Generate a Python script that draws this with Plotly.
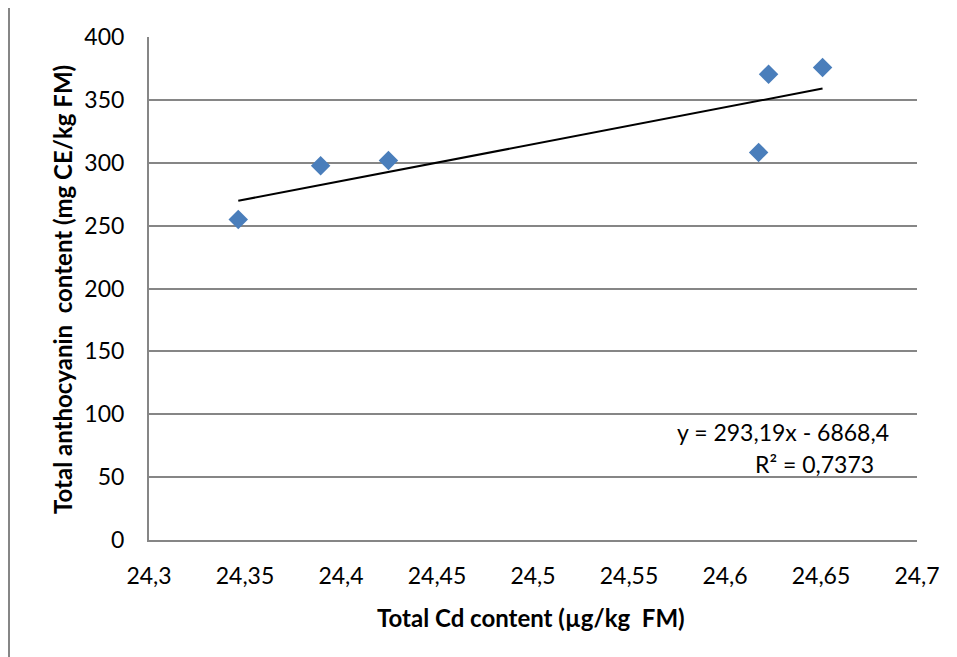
import plotly.graph_objects as go

# Data
cd_content = [24.3465, 24.3894, 24.4247, 24.6175, 24.6227, 24.6508]
anthocyanin = [254.8, 297.6, 301.8, 308.2, 370.4, 375.7]

# Trendline as stated on the chart
slope = 293.19
intercept = -6868.4
eq_text = "y = 293,19x - 6868,4"
r2_text = "R² = 0,7373"

x_ticks = [24.3, 24.35, 24.4, 24.45, 24.5, 24.55, 24.6, 24.65, 24.7]
x_ticktext = ["24,3", "24,35", "24,4", "24,45", "24,5", "24,55", "24,6", "24,65", "24,7"]
y_ticks = [0, 50, 100, 150, 200, 250, 300, 350, 400]

x_title = "Total Cd content (µg/kg\u00a0 FM)"
y_title = "Total anthocyanin\u00a0 content (mg CE/kg FM)"

FONT = "Lato, 'Open Sans', sans-serif"
FS = 23
TFS = 24

xmin, xmax = min(cd_content), max(cd_content)
trend_x = [xmin, xmax]
trend_y = [slope * v + intercept for v in trend_x]

fig = go.Figure()
fig.add_trace(go.Scatter(
    x=trend_x, y=trend_y, mode="lines",
    line=dict(color="black", width=2), hoverinfo="skip", showlegend=False))
fig.add_trace(go.Scatter(
    x=cd_content, y=anthocyanin, mode="markers",
    marker=dict(symbol="diamond", size=15, color="#4A7EBB", line=dict(width=0)),
    showlegend=False))

W, H = 957, 657
ml, mr, mt, mb = 149, 40, 37, 117
pw, ph = W - ml - mr, H - mt - mb


def px_x(p):
    return (p - ml) / pw


def px_y(p):
    return (H - mb - p) / ph


fig.update_layout(
    width=W, height=H,
    margin=dict(l=ml, r=mr, t=mt, b=mb),
    paper_bgcolor="white", plot_bgcolor="white",
    font=dict(family=FONT, size=FS, color="black"),
    xaxis=dict(
        range=[24.3, 24.7], tickvals=x_ticks, ticktext=x_ticktext,
        showgrid=False, zeroline=False,
        showline=True, linecolor="#868686", linewidth=2,
        ticks="outside", ticklen=14, tickcolor="rgba(0,0,0,0)",
        tickfont=dict(size=FS, family=FONT),
    ),
    yaxis=dict(
        range=[0, 400], tickvals=y_ticks,
        showgrid=True, gridcolor="#868686", gridwidth=2,
        zeroline=False,
        showline=True, linecolor="#868686", linewidth=2,
        ticks="outside", ticklen=18, tickcolor="rgba(0,0,0,0)",
        tickfont=dict(size=FS, family=FONT),
    ),
    annotations=[
        dict(text=eq_text, x=px_x(783), y=px_y(432), xref="paper", yref="paper",
             xanchor="center", yanchor="middle",
             showarrow=False, font=dict(size=FS, family=FONT)),
        dict(text=r2_text, x=px_x(814), y=px_y(464), xref="paper", yref="paper",
             xanchor="center", yanchor="middle",
             showarrow=False, font=dict(size=FS, family=FONT)),
        dict(text="<b>" + x_title + "</b>", x=px_x(531), y=px_y(617),
             xref="paper", yref="paper", showarrow=False,
             xanchor="center", yanchor="middle",
             font=dict(size=TFS, family=FONT)),
        dict(text="<b>" + y_title + "</b>", x=px_x(62), y=px_y(290),
             xref="paper", yref="paper", showarrow=False, textangle=-90,
             xanchor="center", yanchor="middle",
             font=dict(size=TFS, family=FONT)),
    ],
    shapes=[
        dict(type="line", xref="paper", yref="paper",
             x0=px_x(9), x1=px_x(9), y0=px_y(657), y1=px_y(8),
             line=dict(color="#868686", width=2)),
    ],
)

fig.write_html("out.html")
